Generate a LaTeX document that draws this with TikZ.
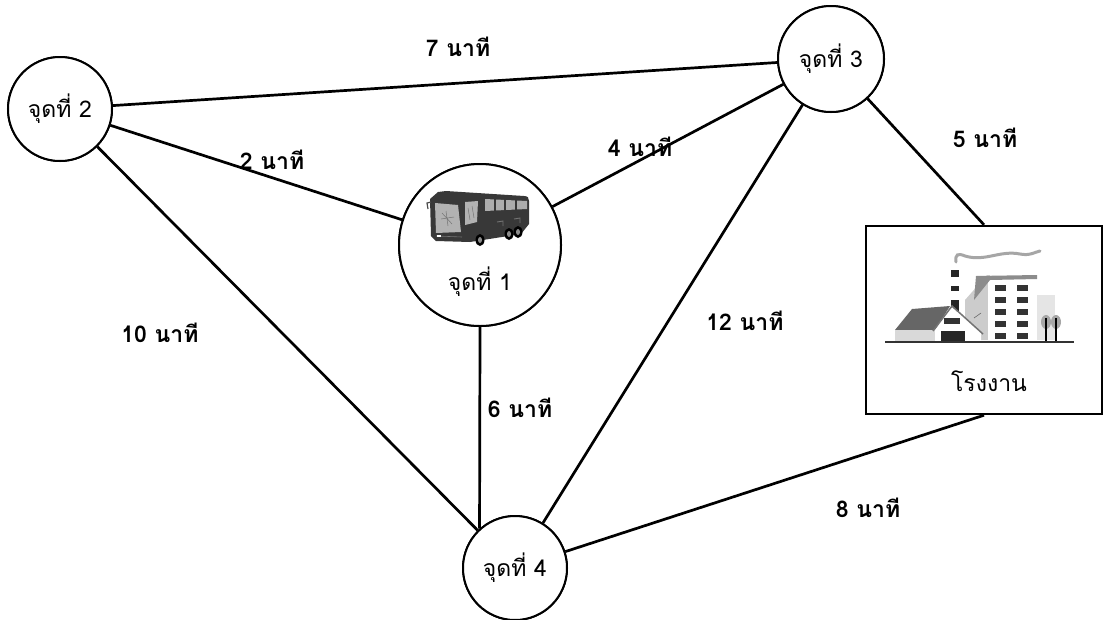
\documentclass[tikz,border=0pt]{standalone}
\usepackage{fontspec}
\setmainfont[Script=Thai]{Loma}
\begin{document}
\begin{tikzpicture}[x=1pt,y=-1pt,
  stop/.style={draw,circle,line width=2pt,fill=white,inner sep=0pt},
  plant/.style={draw,line width=2.4pt,fill=white,minimum width=236pt,minimum height=188pt,inner sep=0pt},
  road/.style={line width=2.7pt},
  cost/.style={font=\fontsize{23}{25}\selectfont\bfseries,inner sep=1pt},
  nm/.style={font=\fontsize{23}{25}\selectfont}]
\useasboundingbox (0,0) rectangle (1105,619);
% stops and the plant
\node[stop,minimum size=104pt] (p2) at (60,109) {};
\node[stop,minimum size=106pt] (p3) at (831,59) {};
\node[stop,minimum size=162pt] (p1) at (480,245) {};
\node[stop,minimum size=104pt] (p4) at (515,568) {};
\node[plant] (fac) at (984,320) {};
% roads
\draw[road] (p2) -- (p3);
\draw[road] (p2) -- (p1);
\draw[road] (p2) -- (p4);
\draw[road] (p1) -- (p3);
\draw[road] (p1.south) -- (p4.132);
\draw[road] (p3) -- (p4);
\draw[road] (p3) -- (fac.north);
\draw[road] (fac.south) -- (p4);
% stops drawn again on top of the roads
\node[stop,minimum size=104pt] at (p2) {};
\node[stop,minimum size=106pt] at (p3) {};
\node[stop,minimum size=162pt] at (p1) {};
\node[stop,minimum size=104pt] at (p4) {};
\node[plant] at (fac) {};
% stop names
\node[nm] (t2) at (p2) {จุดที่ 2};
\node[nm] (t3) at (p3) {จุดที่ 3};
\node[nm] (t4) at (p4) {จุดที่ 4};
\node[nm] (t1) at (480,282) {จุดที่ 1};
\node[nm] (tf) at (989,381) {โรงงาน};
% travel times
\node[cost] (c7) at (458,47) {7 นาที};
\node[cost] (c2) at (272,160) {2 นาที};
\node[cost] (c4) at (640,147) {4 นาที};
\node[cost] (c5) at (985,138) {5 นาที};
\node[cost] (c10) at (160,333) {10 นาที};
\node[cost] (c6) at (520,408) {6 นาที};
\node[cost] (c12) at (745,321) {12 นาที};
\node[cost] (c8) at (868,508) {8 นาที};
% bus
\fill[black!78] (430,199) -- (438,192) -- (446,191) -- (524,196) .. controls (528,196) and (529,198) .. (529,201) -- (529,224) -- (521,234) -- (470,242) -- (436,241) -- (431,236) -- cycle;
\fill[black!30] (435,203) -- (458,205) -- (461,232) -- (436,233) -- cycle;
\draw[black!55,line width=0.5pt] (442,213) -- (452,224) (446,211) -- (448,226) (441,219) -- (454,217);
\fill[black!30] (465,202) -- (478,201) -- (477,222) -- (465,225) -- cycle;
\draw[black!55,line width=0.5pt] (468,208) -- (470,220) (472,206) -- (474,218);
\fill[black!32] (485,199) -- (527,201) -- (527,209) -- (485,211) -- cycle;
\foreach \xx in {495,505,516}{\draw[black!78,line width=1.1pt] (\xx,199) -- (\xx,211);}
\draw[black!55,line width=0.6pt] (436,236) -- (462,237);
\fill[white] (437,235) rectangle (441,237);
\draw[black!55,line width=0.9pt] (497,222) -- (503,221) -- (503,226);
\draw[black!55,line width=0.9pt] (514,219) -- (520,218) -- (520,223);
\draw[black!70,line width=1.2pt] (431,202) -- (427,203) -- (428,209);
\foreach \xx/\yy in {480/240,509/234,518/232}{\fill[black] (\xx,\yy) ellipse[x radius=4.5,y radius=6]; \fill[black!45] (\xx,\yy) ellipse[x radius=2,y radius=3];}
% plant: smoke, chimney, block, shed, trees
\draw[black!35,line width=3pt,line cap=round] (956,262) .. controls (955,254) and (958,253) .. (965,256) .. controls (985,262) and (1000,250) .. (1020,254) .. controls (1030,256) and (1035,252) .. (1040,251);
\fill[black!85] (951,270) rectangle (959,312);
\fill[white] (951,277) rectangle (959,286);
\fill[white] (951,291) rectangle (959,300);
\fill[black!20] (965,340) -- (965,300) -- (987,275) -- (990,275) -- (990,340) -- cycle;
\fill[white] (988,277) rectangle (1036,340);
\fill[black!45] (976,276) -- (1037,275) -- (1037,279) -- (990,280) -- (974,300) -- cycle;
\foreach \yy in {285,297,309,321,333}{
  \foreach \xx in {995,1017}{\fill[black!80] (\xx,\yy) rectangle ++(11,6);}}
\fill[black!10] (1037,295) rectangle (1055,340);
\fill[black!60] (895,330) -- (912,309) -- (950,306) -- (935,330) -- cycle;
\fill[black!15] (895,330) rectangle (935,342);
\fill[white] (935,330) -- (952,307) -- (981,333) -- (981,342) -- (935,342) -- cycle;
\draw[black!55,line width=1.5pt] (933,331) -- (952,306) -- (983,334);
\fill[black!80] (944,318) rectangle (960,324);
\fill[black!85] (941,331) rectangle (965,342);
\draw[black!60,line width=0.6pt] (974,318) -- (981,313);
\foreach \xx in {1046,1056}{
  \fill[black!35] (\xx,322) ellipse[x radius=5,y radius=7];
  \draw[black,line width=1.3pt] (\xx,318) -- (\xx,342);}
\draw[black!80,line width=1.3pt] (885,342) -- (1074,342);
\end{tikzpicture}
\end{document}
